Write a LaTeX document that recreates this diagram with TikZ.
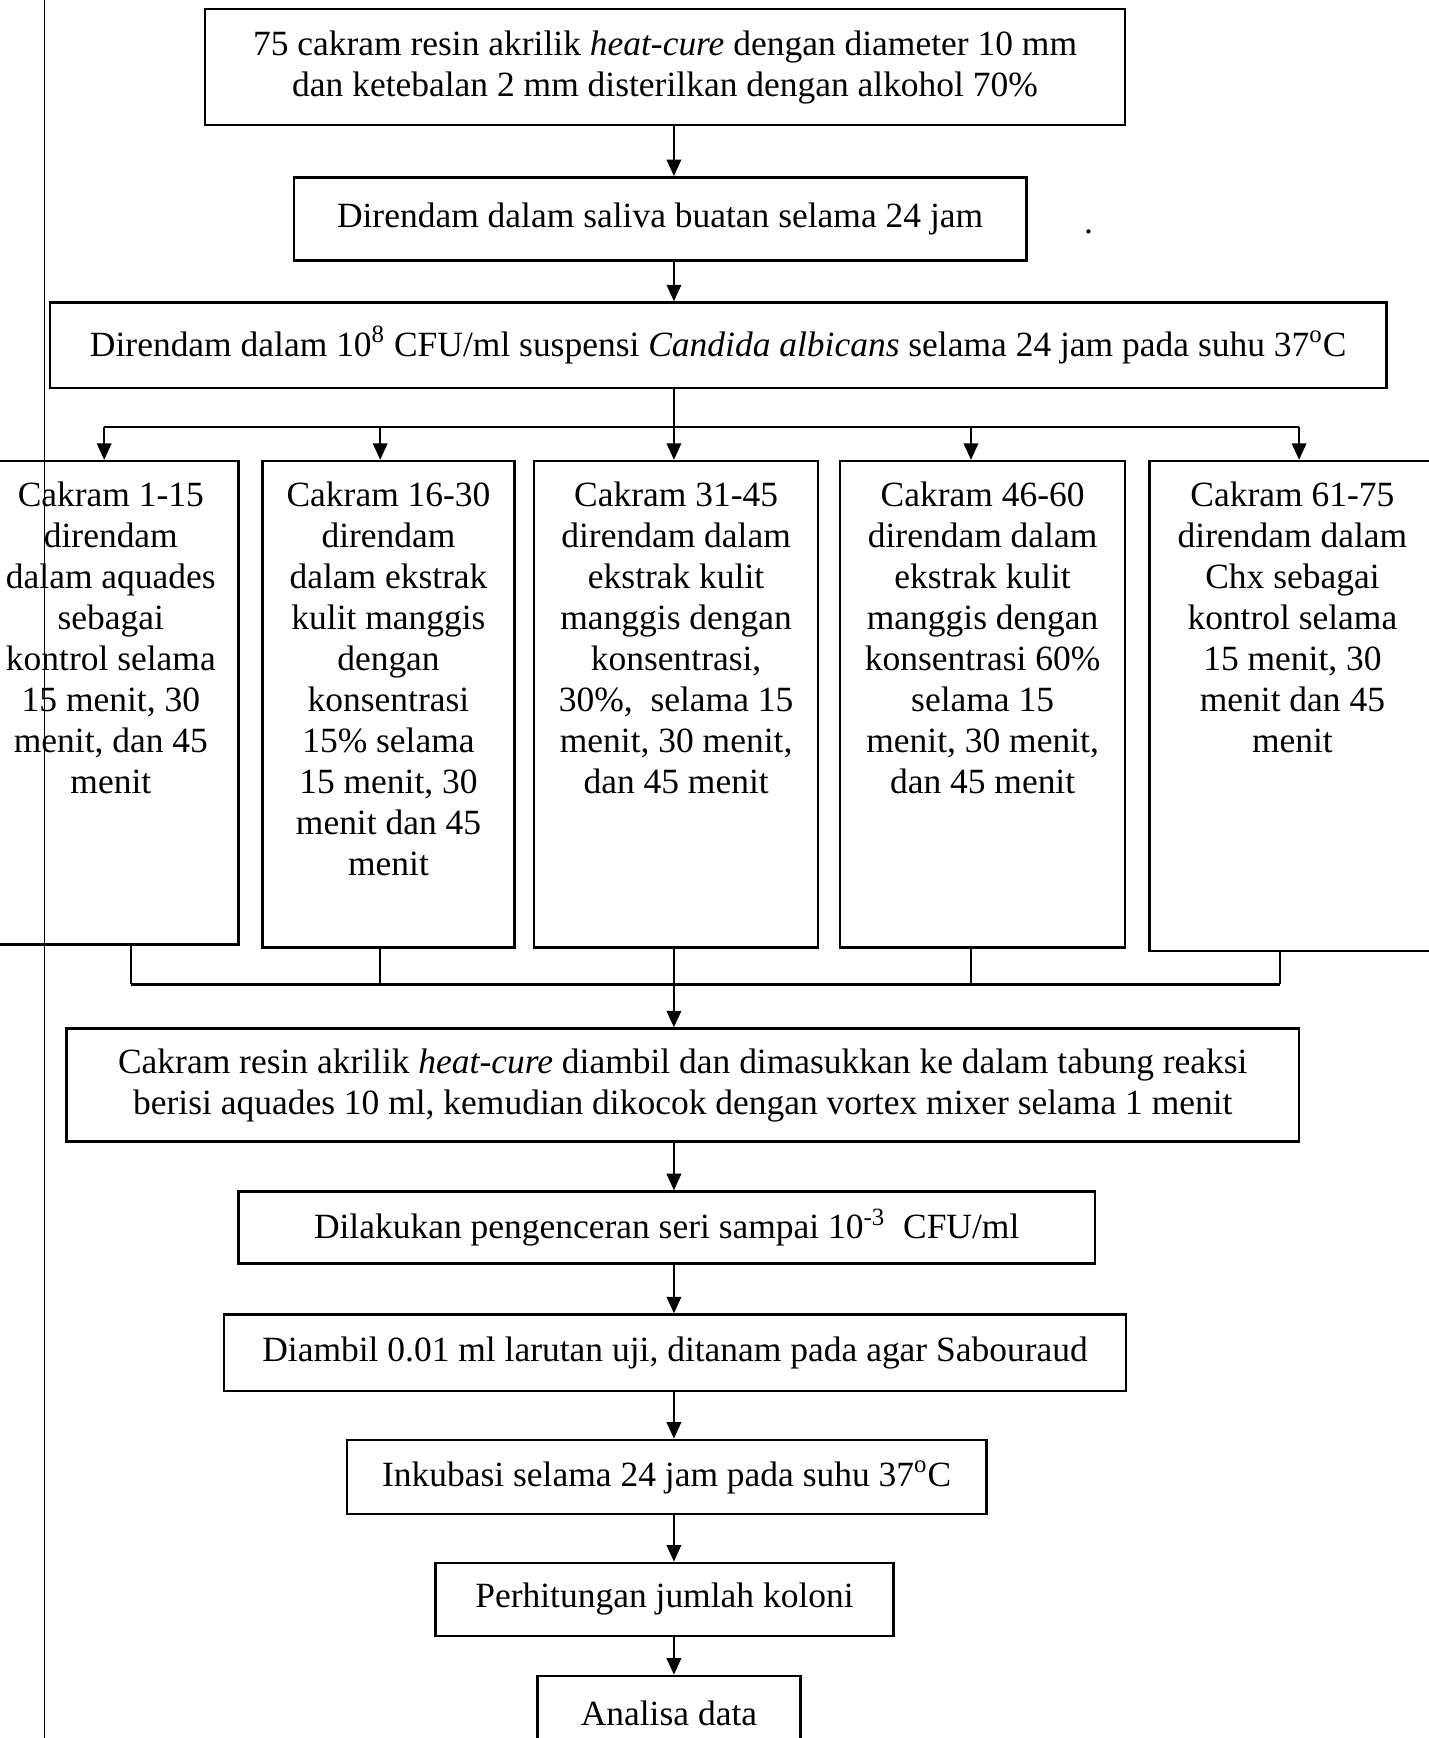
\documentclass[tikz,border=0pt]{standalone}
\usepackage{fontspec}
\setmainfont{Liberation Serif}
\usetikzlibrary{arrows.meta}
\newcommand\diagfont{\fontsize{16pt}{18.5pt}\selectfont}
\begin{document}
\begin{tikzpicture}[x=0.5pt,y=-0.5pt,
  box/.style={draw, line width=1.1pt, inner sep=0pt, align=center, font=\diagfont},
  coltext/.style={inner sep=0pt, align=center, font=\diagfont, anchor=north},
  arr/.style={-{Triangle[length=7.5pt,width=6.5pt]}, line width=1.1pt},
  conn/.style={line width=1.1pt},
  margin/.style={line width=0.7pt}
]
\useasboundingbox (0,0) rectangle (1289,1568);

% page margin line
\coordinate (mtop) at (40,0);
\coordinate (mbot) at (40,1568);
\draw[margin] (mtop) -- (mbot);

% axis coordinate
\coordinate (axis) at (608,0);

% top boxes
\node[box, minimum width=415pt, minimum height=52.5pt] (A) at (600,60.5)
  {75 cakram resin akrilik \textit{heat-cure} dengan diameter 10 mm\\dan ketebalan 2 mm disterilkan dengan alkohol 70\%};
\node[box, minimum width=330.5pt, minimum height=37.5pt] (B) at (595.5,197.5)
  {Direndam dalam saliva buatan selama 24 jam};
\node[font=\diagfont, inner sep=0pt, anchor=base] (dot) at (982,211) {.};
\node[box, minimum width=603pt, minimum height=38.5pt] (C) at (648,311.5)
  {Direndam dalam 10\textsuperscript{8} CFU/ml suspensi \textit{Candida albicans} selama 24 jam pada suhu 37\textsuperscript{o}C};

% column boxes
\node[box, minimum width=115pt, minimum height=218pt] (K1) at (100,634) {};
\node[box, minimum width=113.5pt, minimum height=219.5pt] (K2) at (350.5,635.5) {};
\node[box, minimum width=128pt, minimum height=219.5pt] (K3) at (610,635.5) {};
\node[box, minimum width=128.5pt, minimum height=219.5pt] (K4) at (886.5,635.5) {};
\node[box, minimum width=129pt, minimum height=221pt] (K5) at (1166,637) {};

\node[coltext] (T1) at (100,434) {Cakram 1-15\\direndam\\dalam aquades\\sebagai\\kontrol selama\\15 menit, 30\\menit, dan 45\\menit};
\node[coltext] (T2) at (350.5,434) {Cakram 16-30\\direndam\\dalam ekstrak\\kulit manggis\\dengan\\konsentrasi\\15\% selama\\15 menit, 30\\menit dan 45\\menit};
\node[coltext] (T3) at (610,434) {Cakram 31-45\\direndam dalam\\ekstrak kulit\\manggis dengan\\konsentrasi,\\30\%,\ \ selama 15\\menit, 30 menit,\\dan 45 menit};
\node[coltext] (T4) at (886.5,434) {Cakram 46-60\\direndam dalam\\ekstrak kulit\\manggis dengan\\konsentrasi 60\%\\selama 15\\menit, 30 menit,\\dan 45 menit};
\node[coltext] (T5) at (1166,434) {Cakram 61-75\\direndam dalam\\Chx sebagai\\kontrol selama\\15 menit, 30\\menit dan 45\\menit};

% lower boxes
\node[box, minimum width=556pt, minimum height=51pt] (D) at (616,979)
  {Cakram resin akrilik \textit{heat-cure} diambil dan dimasukkan ke dalam tabung reaksi\\berisi aquades 10 ml, kemudian dikocok dengan vortex mixer selama 1 menit};
\node[box, minimum width=386.5pt, minimum height=32.5pt] (E) at (601.5,1107.5)
  {Dilakukan pengenceran seri sampai 10\textsuperscript{-3}\ \ CFU/ml};
\node[box, minimum width=407pt, minimum height=34.5pt] (F) at (609,1220.5)
  {Diambil 0.01 ml larutan uji, ditanam pada agar Sabouraud};
\node[box, minimum width=288.5pt, minimum height=33.5pt] (G) at (601.5,1332.5)
  {Inkubasi selama 24 jam pada suhu 37\textsuperscript{o}C};
\node[box, minimum width=206.5pt, minimum height=33pt] (H) at (599.5,1443)
  {Perhitungan jumlah koloni};
\node[box, minimum width=118.5pt, minimum height=34pt] (I) at (603.5,1546)
  {Analisa data};

% split and join coordinates
\coordinate (split) at (608,385);
\coordinate (s1) at (94,385);
\coordinate (s2) at (343,385);
\coordinate (s4) at (876,385);
\coordinate (s5) at (1172,385);
\coordinate (join) at (608,888);
\coordinate (j1) at (118,888);
\coordinate (j2) at (343,888);
\coordinate (j4) at (876,888);
\coordinate (j5) at (1155,888);

% connectors
\draw[arr] (A.south -| axis) -- (B.north -| axis);
\draw[arr] (B.south -| axis) -- (C.north -| axis);
\draw[conn] (C.south -| axis) -- (split);
\draw[conn] (s1) -- (s5);
\draw[arr] (s1) -- (K1.north -| s1);
\draw[arr] (s2) -- (K2.north -| s2);
\draw[arr] (split) -- (K3.north -| split);
\draw[arr] (s4) -- (K4.north -| s4);
\draw[arr] (s5) -- (K5.north -| s5);

\draw[conn] (K1.south -| j1) -- (j1);
\draw[conn] (K2.south -| j2) -- (j2);
\draw[conn] (K3.south -| join) -- (join);
\draw[conn] (K4.south -| j4) -- (j4);
\draw[conn] (K5.south -| j5) -- (j5);
\draw[conn] (j1) -- (j5);
\draw[arr] (join) -- (D.north -| axis);

\draw[arr] (D.south -| axis) -- (E.north -| axis);
\draw[arr] (E.south -| axis) -- (F.north -| axis);
\draw[arr] (F.south -| axis) -- (G.north -| axis);
\draw[arr] (G.south -| axis) -- (H.north -| axis);
\draw[arr] (H.south -| axis) -- (I.north -| axis);
\end{tikzpicture}
\end{document}
